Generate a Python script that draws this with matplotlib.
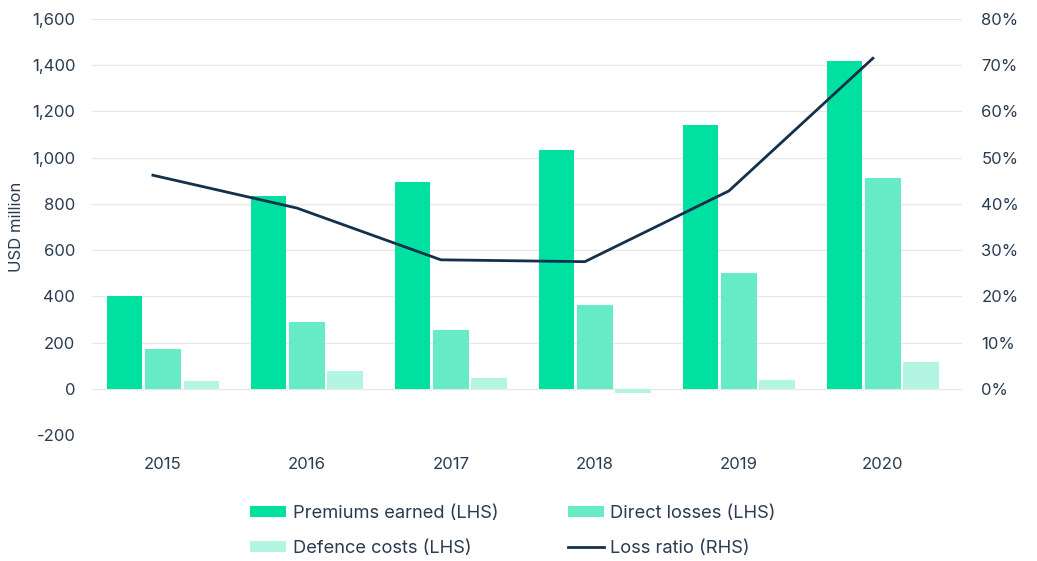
import matplotlib.pyplot as plt
import numpy as np
from matplotlib.ticker import FuncFormatter

# Data
years = ["2015", "2016", "2017", "2018", "2019", "2020"]
premiums_earned = [400, 835, 895, 1035, 1142, 1418]
direct_losses = [170, 290, 255, 363, 500, 912]
defence_costs = [32, 78, 48, -20, 38, 117]
loss_ratio = [46.2, 39.1, 27.9, 27.5, 42.8, 71.5]

C_PREM = "#00E0A0"
C_DIRECT = "#66EBC6"
C_DEF = "#B3F5E3"
C_LINE = "#15304A"
C_TEXT = "#2A3B52"
C_GRID = "#E8E8E8"

plt.rcParams["font.family"] = ["Inter", "DejaVu Sans"]

fig = plt.figure(figsize=(10.37, 5.61), dpi=100)
ax = fig.add_axes([92 / 1037, 1 - 435 / 561, 870 / 1037, 416 / 561])
ax2 = ax.twinx()

x = np.arange(len(years))
w = 0.245
step = 0.265

ax.bar(x - step, premiums_earned, w, color=C_PREM, zorder=3)
ax.bar(x, direct_losses, w, color=C_DIRECT, zorder=3)
ax.bar(x + step, defence_costs, w, color=C_DEF, zorder=3)

ax2.plot(x - 0.07, loss_ratio, color=C_LINE, lw=2, zorder=4)

ax.set_xlim(-0.493, 5.549)
ax.set_ylim(-200, 1600)
ax.set_yticks(np.arange(-200, 1601, 200))
ax.yaxis.set_major_formatter(FuncFormatter(lambda v, p: f"{v:,.0f}"))
ax2.set_ylim(-10, 80)
ax2.set_yticks(np.arange(0, 81, 10))
ax2.yaxis.set_major_formatter(FuncFormatter(lambda v, p: f"{v:.0f}%"))

ax.set_xticks(x)
ax.set_xticklabels(years)
ax.grid(axis="y", color=C_GRID, lw=1, zorder=0)
ax.set_axisbelow(True)

for a in (ax, ax2):
    for s in a.spines.values():
        s.set_visible(False)
    a.tick_params(length=0, labelsize=12, labelcolor=C_TEXT)
ax.tick_params(axis="y", pad=12)
ax.tick_params(axis="x", pad=16)
ax2.tick_params(axis="y", pad=14)

ax.set_ylabel("USD million", fontsize=12, color=C_TEXT, labelpad=6)

handles = [ax.containers[0], ax.containers[2], ax.containers[1], ax2.lines[0]]
labels = ["Premiums earned (LHS)", "Defence costs (LHS)", "Direct losses (LHS)", "Loss ratio (RHS)"]
leg = fig.legend(handles, labels, ncol=2, loc="center", bbox_to_anchor=(513 / 1037, 1 - 531 / 561),
                 frameon=False, fontsize=13.2, handlelength=1.95, handleheight=0.5,
                 columnspacing=3.8, labelspacing=1.0, handletextpad=0.35)
for t in leg.get_texts():
    t.set_color(C_TEXT)

fig.savefig("out.png", dpi=100)
